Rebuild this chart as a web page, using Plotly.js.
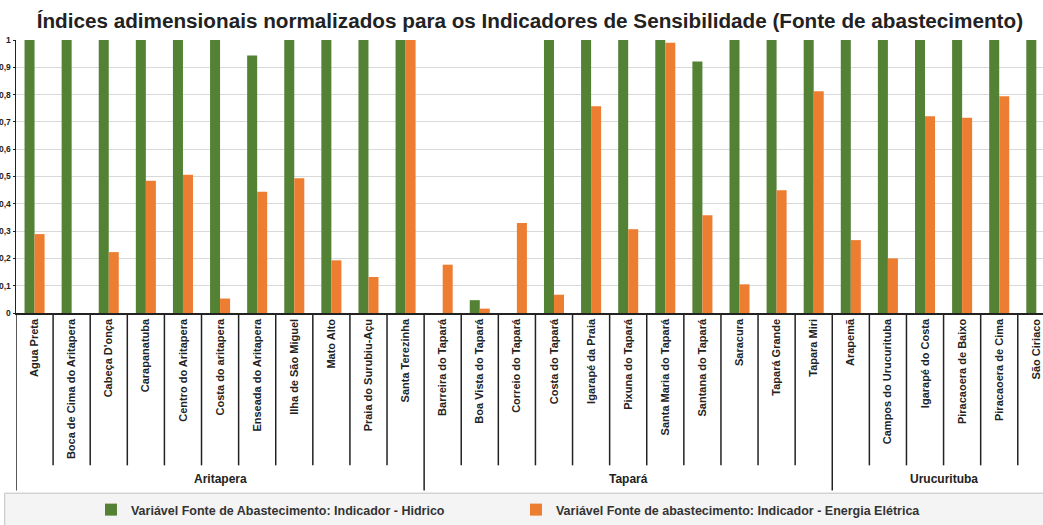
<!DOCTYPE html>
<html>
<head>
<meta charset="utf-8">
<script src="https://cdn.plot.ly/plotly-3.0.1.min.js"></script>
<style>html,body{margin:0;padding:0;background:#fff;}#chart{width:1043px;height:525px;}</style>
</head>
<body>
<div id="chart"></div>
<script>
const groupNames = ['Aritapera', 'Tapará', 'Urucurituba'];
const groupSizes = [11, 11, 6];
const categories = [
  'Agua Preta', 'Boca de Cima do Aritapera', 'Cabeça D\'onça', 'Carapanatuba', 'Centro do Aritapera',
  'Costa do aritapera', 'Enseada do Aritapera', 'Ilha de São Miguel', 'Mato Alto', 'Praia do Surubiu-Açu',
  'Santa Terezinha',
  'Barreira do Tapará', 'Boa Vista do Tapará', 'Correio do Tapará', 'Costa do Tapará', 'Igarapé da Praia',
  'Pixuna do Tapará', 'Santa Maria do Tapará', 'Santana do Tapará', 'Saracura', 'Tapará Grande', 'Tapara Miri',
  'Arapemã', 'Campos do Urucurituba', 'Igarapé do Costa', 'Piracaoera de Baixo', 'Piracaoera de Cima', 'São Ciriaco'
];
const hidrico = [1, 1, 1, 1, 1, 1, 0.943, 1, 1, 1, 1,
                 0, 0.047, 0, 1, 1, 1, 1, 0.921, 1, 1, 1,
                 1, 1, 1, 1, 1, 1];
const energia = [0.289, 0, 0.223, 0.484, 0.506, 0.053, 0.444, 0.494, 0.193, 0.132, 1,
                 0.177, 0.016, 0.33, 0.067, 0.757, 0.307, 0.99, 0.358, 0.105, 0.45, 0.812,
                 0.267, 0.2, 0.721, 0.715, 0.794, 0];
const seriesNames = ['Variável Fonte de Abastecimento: Indicador - Hidrico',
                     'Variável Fonte de abastecimento: Indicador - Energia Elétrica'];
const titleText = 'Índices adimensionais normalizados para os Indicadores de Sensibilidade (Fonte de abastecimento)';

const FONT = '"Liberation Sans Narrow", "Arial Narrow", "Liberation Sans", Arial, sans-serif';
const idx = categories.map((c, i) => i);

const traces = [
  {type: 'bar', name: seriesNames[0], x: idx, y: hidrico, marker: {color: '#548235'}},
  {type: 'bar', name: seriesNames[1], x: idx, y: energia, marker: {color: '#ed7d31'}}
];

// separators and group labels (from group sizes)
const shapes = [];
const annotations = [];
let start = 0;
const catSepY = -0.558, grpSepY = -0.65;
groupSizes.forEach((n, g) => {
  shapes.push({type: 'line', xref: 'x', yref: 'paper', x0: start - 0.5, x1: start - 0.5, y0: 0, y1: grpSepY,
               line: {color: '#222', width: 1.5}});
  for (let k = 1; k < n; k++) {
    shapes.push({type: 'line', xref: 'x', yref: 'paper', x0: start + k - 0.5, x1: start + k - 0.5, y0: 0, y1: catSepY,
                 line: {color: '#222', width: 1.5}});
  }
  annotations.push({xref: 'x', yref: 'paper', x: start + (n - 1) / 2, y: -0.607, yanchor: 'middle', text: groupNames[g],
                    showarrow: false, font: {family: FONT, size: 12, color: '#222', weight: 'bold'}});
  start += n;
});
// legend box
shapes.push({type: 'rect', xref: 'paper', yref: 'paper', x0: -0.011, x1: 1.02, y0: -0.66, y1: -0.80,
             fillcolor: '#f4f4f4', line: {color: '#c0c0c0', width: 1}, layer: 'below'});

const layout = {
  width: 1043, height: 525,
  margin: {l: 16, r: 0, t: 40, b: 212, pad: 0},
  paper_bgcolor: '#fff', plot_bgcolor: '#fff',
  separators: ',.',
  title: {text: titleText, x: 0.508, xanchor: 'center', y: 0.96, yanchor: 'middle',
          font: {family: '"Liberation Sans", Arial, sans-serif', size: 20.7, color: '#222', weight: 'bold'}},
  barmode: 'group', bargap: 0.46, bargroupgap: 0,
  showlegend: true,
  legend: {orientation: 'h', x: 0.073, xanchor: 'left', y: -0.723, yanchor: 'middle',
           bgcolor: 'rgba(0,0,0,0)', entrywidth: 380, entrywidthmode: 'pixels',
           font: {family: FONT, size: 12.5, color: '#333', weight: 'bold'}},
  xaxis: {
    type: 'linear', range: [-0.5, 27.18], tickmode: 'array', tickvals: idx, ticktext: categories,
    tickangle: -90, ticks: '', showgrid: false, zeroline: false,
    showline: true, linecolor: '#222', linewidth: 1.5,
    tickfont: {family: FONT, size: 11, color: '#222', weight: 'bold'}
  },
  yaxis: {
    range: [0, 1], dtick: 0.1, tick0: 0, showgrid: true, gridcolor: '#d9d9d9', gridwidth: 1,
    zeroline: false, showline: true, linecolor: '#222', linewidth: 1.5,
    ticks: 'outside', ticklen: 2, tickcolor: '#222',
    tickfont: {family: FONT, size: 8.5, color: '#222', weight: 'bold'}
  },
  shapes: shapes,
  annotations: annotations
};

Plotly.newPlot('chart', traces, layout, {displayModeBar: false, staticPlot: true});
</script>
</body>
</html>
